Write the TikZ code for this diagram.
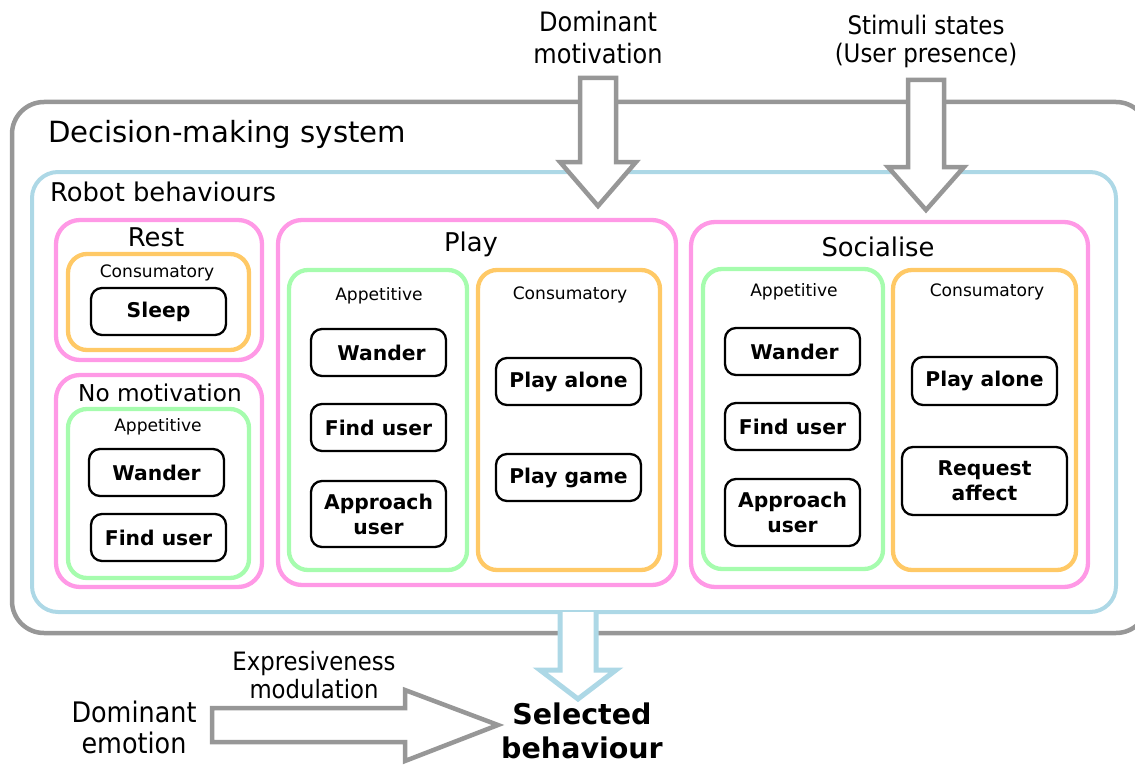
\documentclass[tikz,border=0pt]{standalone}
\usepackage{fontspec}
\setmainfont{DejaVu Sans}
\newfontfamily\narrowfont[FakeStretch=0.9]{DejaVu Sans}
\begin{document}
\begin{tikzpicture}[x=1pt,y=-1pt,
  every node/.style={inner sep=0pt,outer sep=0pt},
  frame/.style={draw,rounded corners=#1},
  graybox/.style={frame=32pt,draw=grayline,line width=4.5pt},
  bluebox/.style={frame=26pt,draw=blueline,line width=4pt},
  pinkbox/.style={frame=24pt,draw=pinkline,line width=4.3pt},
  greenbox/.style={frame=19pt,draw=greenline,line width=4.3pt},
  orangebox/.style={frame=19pt,draw=orangeline,line width=4.3pt},
  behbox/.style={frame=11pt,draw=black,line width=2.3pt,align=center,
    font=\fontsize{20.3}{25}\selectfont\bfseries},
  big/.style={font=\fontsize{29.2}{34}\selectfont},
  mid/.style={font=\fontsize{25.8}{30}\selectfont},
  small/.style={font=\fontsize{17.1}{20}\selectfont},
  ext/.style={align=center},
  blockarrow/.style={draw=grayline,line width=4.5pt,fill=white,line join=miter},
  bluearrow/.style={draw=blueline,line width=5pt,fill=white,line join=miter}
]
\definecolor{grayline}{HTML}{979797}
\definecolor{blueline}{HTML}{ADD8E6}
\definecolor{pinkline}{HTML}{FF99E6}
\definecolor{greenline}{HTML}{A6FCAE}
\definecolor{orangeline}{HTML}{FFC966}

\useasboundingbox (0,0) rectangle (1135,765);

% outer frames
\node[graybox,minimum width=1136pt,minimum height=531pt] (dms) at (580,367.5) {};
\node[anchor=west,big] (dmslabel) at (48,134) {Decision-making system};
\node[bluebox,minimum width=1084pt,minimum height=440pt] (rb) at (574,392) {};
\node[anchor=west,mid] (rblabel) at (50,192) {Robot behaviours};

% Rest
\node[pinkbox,minimum width=206pt,minimum height=140pt] (rest) at (159,290) {};
\node[mid] (restlabel) at (156,237) {Rest};
\node[orangebox,minimum width=181pt,minimum height=96pt] (restcons) at (158.5,302) {};
\node[small] (restconslabel) at (157,273) {Consumatory};
\node[behbox,minimum width=135pt,minimum height=47pt] (sleep) at (158.5,311.5) {Sleep};

% No motivation
\node[pinkbox,minimum width=206pt,minimum height=212pt] (nomot) at (159,481) {};
\node[font=\fontsize{23.2}{28}\selectfont] (nomotlabel) at (160,393) {No motivation};
\node[greenbox,minimum width=181pt,minimum height=169pt] (nomotapp) at (158.5,493.5) {};
\node[small] (nomotapplabel) at (158,427) {Appetitive};
\node[behbox,minimum width=135pt,minimum height=47pt] (wanderA) at (156.5,472.5) {Wander};
\node[behbox,minimum width=135pt,minimum height=47pt] (findA) at (158.5,537.5) {Find user};

% Play
\node[pinkbox,minimum width=398pt,minimum height=365pt] (play) at (477,402.5) {};
\node[mid] (playlabel) at (471,244) {Play};
\node[greenbox,minimum width=178pt,minimum height=300pt] (playapp) at (378,420) {};
\node[small] (playapplabel) at (379,296) {Appetitive};
\node[behbox,minimum width=135pt,minimum height=47pt] (wanderB) at (378.5,352.5) {\hspace{6pt}Wander};
\node[behbox,minimum width=135pt,minimum height=47pt] (findB) at (378.5,427.5) {Find user};
\node[behbox,minimum width=135pt,minimum height=66pt] (approachB) at (378.5,514) {Approach\\user};
\node[orangebox,minimum width=182pt,minimum height=300pt] (playcons) at (569,420) {};
\node[small] (playconslabel) at (570,295) {Consumatory};
\node[behbox,minimum width=145pt,minimum height=47pt] (aloneB) at (568.5,381.5) {Play alone};
\node[behbox,minimum width=145pt,minimum height=47pt] (game) at (568.5,477.5) {Play game};

% Socialise
\node[pinkbox,minimum width=397pt,minimum height=365pt] (soc) at (889.5,404.5) {};
\node[mid] (soclabel) at (878,247) {Socialise};
\node[greenbox,minimum width=180pt,minimum height=300pt] (socapp) at (793,419) {};
\node[small] (socapplabel) at (794,292) {Appetitive};
\node[behbox,minimum width=135pt,minimum height=47pt] (wanderC) at (792.5,351.5) {\hspace{4pt}Wander};
\node[behbox,minimum width=135pt,minimum height=47pt] (findC) at (792.5,426.5) {Find user};
\node[behbox,minimum width=135pt,minimum height=67pt] (approachC) at (792.5,512.5) {Approach\\user};
\node[orangebox,minimum width=183pt,minimum height=300pt] (soccons) at (984.5,420) {};
\node[small] (socconslabel) at (987,292) {Consumatory};
\node[behbox,minimum width=145pt,minimum height=48pt] (aloneC) at (984.5,381) {Play alone};
\node[behbox,minimum width=165pt,minimum height=68pt] (request) at (984.5,481) {Request\\affect};

% inputs from above
\node[ext,font=\fontsize{26.7}{32}\narrowfont\selectfont] (motiv) at (598,38) {Dominant\\motivation};
\node[ext,font=\fontsize{25.5}{28}\narrowfont\selectfont] (stim) at (926,41) {Stimuli states\\(User presence)};
\draw[blockarrow] (580,78) -- (616,78) -- (616,162) -- (636,162) -- (598,206)
  -- (560,162) -- (580,162) -- cycle;
\draw[blockarrow] (908,80) -- (944,80) -- (944,167) -- (964,167) -- (926,210)
  -- (888,167) -- (908,167) -- cycle;

% output
\node[font=\fontsize{28.5}{34}\selectfont\bfseries,align=center] (selected) at (582,731) {Selected\\behaviour};
\draw[bluearrow] (560,612) -- (560,670) -- (540,670) -- (578,699) -- (616,670)
  -- (596,670) -- (596,612);

% emotion input
\node[ext,font=\fontsize{28.3}{31}\narrowfont\selectfont] (emotion) at (134,727) {Dominant\\emotion};
\node[ext,font=\fontsize{25.3}{28}\narrowfont\selectfont] (expr) at (314,675) {Expresiveness\\modulation};
\draw[blockarrow] (212,708) -- (405,708) -- (405,690) -- (498,725) -- (405,761)
  -- (405,742) -- (212,742) -- cycle;
\end{tikzpicture}
\end{document}
